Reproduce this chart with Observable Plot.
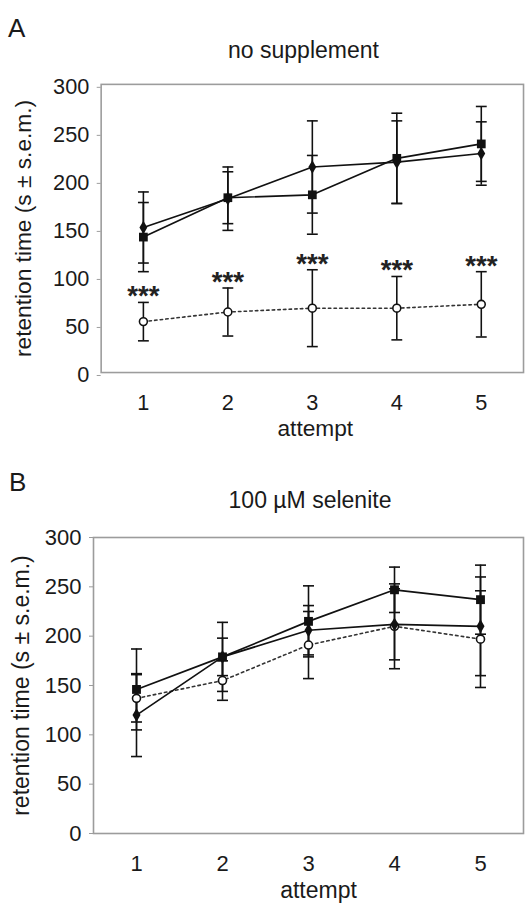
<!DOCTYPE html>
<html><head><meta charset="utf-8">
<script src="https://cdn.jsdelivr.net/npm/d3@7"></script>
<script src="https://cdn.jsdelivr.net/npm/@observablehq/plot@0.6"></script>
<style>
html,body{margin:0;padding:0;background:#fff;overflow:hidden;width:525px;height:903px;}
#root{position:relative;width:525px;height:903px;overflow:hidden;font-family:"Liberation Sans",Arial,sans-serif;color:#1a1a1a;background:#fff;}
.lbl{position:absolute;line-height:1;white-space:nowrap;z-index:2;}
.panel{position:absolute;left:0;z-index:1;}
</style></head><body><div id="root">
<div id="pa" class="panel" style="top:0px"></div>
<div id="pb" class="panel" style="top:460px"></div>
<div class="lbl" style="left:8px;top:15px;font-size:26px">A</div>
<div class="lbl" style="left:303.5px;top:38.5px;font-size:23px;transform:translateX(-50%)">no supplement</div>
<div class="lbl" style="left:9px;top:469px;font-size:26px">B</div>
<div class="lbl" style="left:310px;top:488.5px;font-size:23px;transform:translateX(-50%)">100 µM selenite</div>
</div>
<script>
// ---- shared ----
const attempts = [1, 2, 3, 4, 5];
const xTicks = [1, 2, 3, 4, 5];
const yTicks = [0, 50, 100, 150, 200, 250, 300];
const xTitle = "attempt";
const yTitle = "retention time (s ± s.e.m.)";

// ---- Panel A: no supplement ----
const aSquareMean = [141, 182, 185, 223, 238];
const aSquareSem  = [36, 27, 41, 47, 39];
const aDiamondMean = [151, 181, 214, 219, 228];
const aDiamondSem  = [37, 33, 48, 43, 33];
const aOpenMean = [53, 63, 67, 67, 71];
const aOpenSem  = [20, 25, 40, 33, 34];
const aSig = ["***", "***", "***", "***", "***"];

// ---- Panel B: 100 µM selenite ----
const bSquareMean = [146, 179, 215, 247, 237];
const bSquareSem  = [41, 35, 36, 23, 35];
const bDiamondMean = [120, 179, 206, 212, 210];
const bDiamondSem  = [42, 19, 25, 36, 50];
const bOpenMean = [137, 155, 191, 210, 197];
const bOpenSem  = [24, 20, 34, 43, 49];

function rows(means, sems, sig) {
  return attempts.map((a, i) => ({attempt: a, mean: means[i], sem: sems[i], sig: sig ? sig[i] : ""}));
}

const cap = {draw(ctx, size) { const w = Math.sqrt(size / Math.PI); ctx.moveTo(-w, 0); ctx.lineTo(w, 0); }};
const INK = "#111";

function seriesMarks(data) {
  return [
    Plot.ruleX(data, {x: "attempt", y1: d => d.mean - d.sem, y2: d => d.mean + d.sem, stroke: INK, strokeWidth: 1.6}),
    Plot.dot(data, {x: "attempt", y: d => d.mean + d.sem, symbol: cap, r: 5.5, stroke: INK, fill: "none", strokeWidth: 1.6}),
    Plot.dot(data, {x: "attempt", y: d => d.mean - d.sem, symbol: cap, r: 5.5, stroke: INK, fill: "none", strokeWidth: 1.6})
  ];
}
function lineMarks(data, kind) {
  if (kind === "open") {
    return [
      Plot.line(data, {x: "attempt", y: "mean", stroke: "#333", strokeWidth: 1.6, strokeDasharray: "2.5,3.2"}),
      Plot.dot(data, {x: "attempt", y: "mean", r: 4, fill: "white", stroke: INK, strokeWidth: 1.6})
    ];
  }
  return [
    Plot.line(data, {x: "attempt", y: "mean", stroke: INK, strokeWidth: 1.7}),
    Plot.dot(data, {x: "attempt", y: "mean", symbol: kind === "square" ? "square" : "diamond", r: kind === "square" ? 5 : 4.2, fill: INK, stroke: "none"})
  ];
}

function panel(opts) {
  const {sq, di, op, sig, width, marginLeft, marginRight, marginTop, marginBottom, height, yDy, yTitleDx, xTitleDx} = opts;
  const marks = [
    Plot.frame({stroke: "#9c9c9c", strokeWidth: 1.6}),
    Plot.axisY({ticks: yTicks, tickFormat: d => String(d), tickSize: 4, tickPadding: 8, fontSize: 22, stroke: "#9c9c9c", fill: "#1a1a1a", dy: yDy, label: null}),
    Plot.axisX({ticks: xTicks, tickFormat: d => String(d), tickSize: 0, tickPadding: 22, fontSize: 22, fill: "#1a1a1a", label: null}),
    Plot.text([yTitle], {text: d => d, frameAnchor: "left", textAnchor: "middle", rotate: -90, dx: yTitleDx, fontSize: 23, fill: "#1a1a1a"}),
    Plot.text([xTitle], {text: d => d, frameAnchor: "bottom", textAnchor: "middle", lineAnchor: "bottom", dy: 64, dx: xTitleDx, fontSize: 23, fill: "#1a1a1a"}),
    ...seriesMarks(op), ...seriesMarks(sq), ...seriesMarks(di),
    ...lineMarks(op, "open"), ...lineMarks(sq, "square"), ...lineMarks(di, "diamond")
  ];
  if (sig) {
    marks.push(Plot.text(op, {x: "attempt", y: d => d.mean + d.sem, text: "sig", fontSize: 28, fontWeight: "bold", dy: -6, fill: "#222"}));
  }
  return Plot.plot({
    width, height, marginLeft, marginRight, marginTop, marginBottom,
    x: {type: "linear", domain: [0.5, 5.5], axis: null},
    y: {domain: [0, 300], axis: null},
    style: {fontFamily: "Liberation Sans, Arial, sans-serif", fontSize: "22px", color: "#1a1a1a", background: "transparent", overflow: "visible"},
    marks
  });
}

document.getElementById("pa").appendChild(panel({
  sq: rows(aSquareMean, aSquareSem), di: rows(aDiamondMean, aDiamondSem), op: rows(aOpenMean, aOpenSem, aSig), sig: true,
  width: 532, height: 450, marginLeft: 102, marginRight: 2, marginTop: 85, marginBottom: 73, yDy: 3, yTitleDx: -78, xTitleDx: 3
}));
document.getElementById("pb").appendChild(panel({
  sq: rows(bSquareMean, bSquareSem), di: rows(bDiamondMean, bDiamondSem), op: rows(bOpenMean, bOpenSem), sig: false,
  width: 525, height: 443, marginLeft: 93, marginRight: 2, marginTop: 77, marginBottom: 70, yDy: 0, yTitleDx: -72, xTitleDx: 10
}));
</script>
</body></html>
